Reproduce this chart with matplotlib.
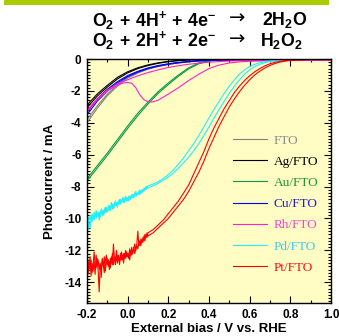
import numpy as np
import matplotlib
matplotlib.use("Agg")
import matplotlib.pyplot as plt
from matplotlib.patches import Rectangle
from matplotlib.ticker import MultipleLocator

plt.rcParams['font.family'] = ['Liberation Sans', 'DejaVu Sans']
plt.rcParams['mathtext.fontset'] = 'custom'
plt.rcParams['mathtext.rm'] = 'Liberation Sans:bold'
plt.rcParams['mathtext.bf'] = 'Liberation Sans:bold'
plt.rcParams['mathtext.it'] = 'Liberation Sans:bold'

# ---------------- data ----------------
V_coarse = [-0.2, -0.15, -0.1, -0.05, 0.0, 0.05, 0.1, 0.15, 0.2, 0.25, 0.3, 0.35, 0.4,
            0.45, 0.5, 0.55, 0.6, 0.65, 0.7, 0.75, 0.8, 0.85, 0.9, 0.95, 1.0]

FTO_a = [-4.0, -3.1, -2.3, -1.7, -1.2, -0.88, -0.64, -0.47, -0.34, -0.25, -0.18, -0.13, -0.1,
         -0.08, -0.07, -0.06, -0.05, -0.05, -0.04, -0.04, -0.04, -0.03, -0.03, -0.03, -0.03]
FTO_b = [-3.8, -2.95, -2.2, -1.62, -1.15, -0.84, -0.61, -0.45, -0.32, -0.23, -0.17, -0.12, -0.09,
         -0.07, -0.06, -0.05, -0.05, -0.04, -0.04, -0.04, -0.03, -0.03, -0.03, -0.03, -0.03]
Ag_a = [-2.9, -2.2, -1.65, -1.15, -0.8, -0.55, -0.37, -0.24, -0.15, -0.09, -0.05, -0.03, -0.02,
        -0.02, -0.02, -0.01, -0.01, -0.01, -0.01, -0.01, -0.01, -0.01, -0.01, -0.01, -0.01]
Ag_b = [-3.05, -2.33, -1.76, -1.25, -0.87, -0.6, -0.41, -0.27, -0.17, -0.1, -0.06, -0.04, -0.03,
        -0.02, -0.02, -0.02, -0.02, -0.01, -0.01, -0.01, -0.01, -0.01, -0.01, -0.01, -0.01]
Au_a = [-7.5, -6.7, -5.9, -5.05, -4.2, -3.4, -2.7, -2.05, -1.5, -1.0, -0.55, -0.25, -0.1,
        -0.05, -0.03, -0.02, -0.02, -0.02, -0.02, -0.02, -0.02, -0.02, -0.02, -0.02, -0.02]
Au_b = [-7.65, -6.85, -6.05, -5.2, -4.35, -3.55, -2.82, -2.15, -1.6, -1.08, -0.62, -0.3, -0.13,
        -0.06, -0.04, -0.03, -0.03, -0.03, -0.02, -0.02, -0.02, -0.02, -0.02, -0.02, -0.02]
Cu_a = [-3.5, -2.65, -2.0, -1.5, -1.1, -0.82, -0.6, -0.45, -0.33, -0.24, -0.17, -0.12, -0.09,
        -0.07, -0.06, -0.05, -0.05, -0.04, -0.04, -0.04, -0.03, -0.03, -0.03, -0.03, -0.03]
Cu_b = [-3.35, -2.5, -1.9, -1.42, -1.04, -0.77, -0.56, -0.41, -0.3, -0.21, -0.15, -0.1, -0.07,
        -0.06, -0.05, -0.04, -0.04, -0.04, -0.03, -0.03, -0.03, -0.03, -0.03, -0.03, -0.03]
Rh_a = [-3.2, -2.5, -1.95, -1.55, -1.3, -1.05, -0.85, -0.68, -0.53, -0.42, -0.33, -0.26, -0.2,
        -0.16, -0.13, -0.11, -0.1, -0.09, -0.09, -0.08, -0.08, -0.08, -0.08, -0.08, -0.08]

V_rh = [-0.2, -0.15, -0.1, -0.05, -0.02, 0.0, 0.02, 0.04, 0.06, 0.08, 0.1, 0.12, 0.15, 0.2,
        0.25, 0.3, 0.35, 0.4, 0.45, 0.5, 0.55, 0.6, 0.7, 0.8, 0.9, 1.0]
Rh_b = [-3.3, -2.55, -2.0, -1.65, -1.5, -1.47, -1.52, -1.8, -2.25, -2.55, -2.68, -2.7, -2.58, -2.2,
        -1.8, -1.35, -0.95, -0.6, -0.38, -0.25, -0.18, -0.14, -0.11, -0.1, -0.09, -0.08]

V_noisy = list(np.round(np.arange(-0.2, 0.1001, 0.005), 3))
Pt_a_noisy = [-12.3, -13.5, -12.9, -13.2, -12.6, -13.4, -13.0, -12.1, -12.8, -13.1, -12.5, -13.3,
              -14.6, -12.9, -13.2, -12.6, -13.0, -12.4, -13.3, -12.8, -12.5, -13.0, -12.7, -13.1,
              -12.4, -12.9, -11.6, -12.5, -12.9, -12.3, -12.8, -12.4, -12.7, -12.2, -12.6, -12.3,
              -12.8, -12.2, -12.5, -12.1, -12.4, -12.2, -12.6, -12.0, -12.3, -12.1, -11.8, -12.2,
              -11.9, -11.6, -10.8, -11.7, -11.4, -11.7, -11.3, -11.5, -11.1, -11.4, -11.0, -11.2,
              -10.9]
Pt_b_noisy = [-13.8, -12.6, -13.1, -12.4, -13.6, -12.8, -13.3, -12.7, -13.5, -12.3, -13.0, -12.6,
              -13.2, -12.8, -13.7, -12.5, -12.9, -13.4, -12.7, -12.3, -12.9, -12.6, -13.2, -12.5,
              -12.8, -12.2, -12.9, -12.4, -12.7, -12.0, -12.6, -12.3, -12.9, -12.4, -12.1, -12.6,
              -12.2, -12.5, -12.0, -12.4, -12.2, -12.5, -11.9, -12.3, -11.8, -12.2, -11.9, -11.6,
              -12.0, -11.7, -11.9, -11.5, -11.7, -11.3, -11.5, -11.2, -11.4, -11.0, -11.2, -10.9,
              -11.1]
Pd_a_noisy = [-10.0, -10.7, -10.1, -9.8, -10.2, -9.7, -10.0, -9.6, -9.9, -9.5, -9.9, -9.6,
              -10.1, -9.7, -9.4, -9.8, -9.5, -9.7, -9.3, -9.6, -9.4, -9.2, -9.5, -9.3,
              -9.0, -9.4, -9.1, -9.3, -8.9, -9.2, -9.0, -9.1, -8.8, -9.1, -8.9, -8.7,
              -9.0, -8.8, -8.6, -8.9, -8.7, -8.9, -8.6, -8.8, -8.5, -8.7, -8.5, -8.6,
              -8.3, -8.6, -8.4, -8.5, -8.2, -8.4, -8.2, -8.3, -8.1, -8.2, -8.0, -8.1,
              -7.95]
Pd_b_noisy = [-10.4, -9.9, -10.3, -10.6, -9.9, -10.2, -9.8, -10.1, -9.7, -10.0, -9.7, -9.9,
              -9.6, -9.9, -9.7, -9.5, -9.8, -9.4, -9.6, -9.3, -9.6, -9.4, -9.2, -9.5,
              -9.3, -9.1, -9.4, -9.0, -9.2, -9.0, -9.3, -8.9, -9.1, -8.8, -9.0, -8.9,
              -8.7, -9.0, -8.8, -8.7, -8.9, -8.6, -8.8, -8.6, -8.7, -8.5, -8.7, -8.4,
              -8.6, -8.4, -8.5, -8.3, -8.5, -8.3, -8.4, -8.2, -8.3, -8.1, -8.2, -8.0,
              -8.1]

V_smooth = list(np.round(np.arange(0.125, 1.0001, 0.025), 3))
Pt_a_smooth = [-10.7, -10.4, -10.1, -9.7, -9.3, -8.9, -8.4, -7.9, -7.2, -6.5, -5.8, -5.0, -4.3,
               -3.7, -3.1, -2.6, -2.1, -1.7, -1.35, -1.05, -0.8, -0.6, -0.43, -0.3, -0.21, -0.15,
               -0.1, -0.07, -0.05, -0.04, -0.03, -0.03, -0.02, -0.02, -0.02, -0.02]
Pt_b_smooth = [-10.9, -10.6, -10.3, -10.0, -9.6, -9.2, -8.8, -8.3, -7.7, -7.1, -6.4, -5.6, -4.9,
               -4.2, -3.6, -3.0, -2.5, -2.05, -1.65, -1.3, -1.0, -0.76, -0.56, -0.4, -0.28, -0.19,
               -0.13, -0.09, -0.06, -0.05, -0.04, -0.03, -0.03, -0.02, -0.02, -0.02]
Pd_a_smooth = [-7.85, -7.7, -7.5, -7.25, -6.95, -6.6, -6.2, -5.75, -5.3, -4.8, -4.25, -3.7, -3.15,
               -2.65, -2.15, -1.7, -1.3, -0.95, -0.68, -0.47, -0.33, -0.23, -0.16, -0.11, -0.08,
               -0.06, -0.05, -0.04, -0.03, -0.03, -0.02, -0.02, -0.02, -0.02, -0.02, -0.02]
Pd_b_smooth = [-7.95, -7.8, -7.6, -7.4, -7.15, -6.85, -6.5, -6.15, -5.75, -5.3, -4.8, -4.25, -3.7,
               -3.15, -2.65, -2.15, -1.7, -1.3, -0.95, -0.68, -0.47, -0.33, -0.23, -0.16, -0.11,
               -0.08, -0.06, -0.05, -0.04, -0.03, -0.03, -0.02, -0.02, -0.02, -0.02, -0.02]

labels = ['FTO', 'Ag/FTO', 'Au/FTO', 'Cu/FTO', 'Rh/FTO', 'Pd/FTO', 'Pt/FTO']
line_colors = ['#808080', '#000000', '#0a9a48', '#0000ff', '#ff22cc', '#22eeff', '#ff0000']
text_colors = ['#8c8c8c', '#000000', '#1a9a2a', '#2020c8', '#ff44cc', '#3ccbee', '#ff1010']

eq_left = [r'$\mathbf{O_2\,+\,4H^{+}\,+\,4e^{-}}$', r'$\mathbf{O_2\,+\,2H^{+}\,+\,2e^{-}}$']
eq_right = [r'$\mathbf{2H_2O}$', r'$\mathbf{H_2O_2}$']

# ---------------- figure ----------------
fig = plt.figure(figsize=(3.39, 3.36), dpi=100)
fig.patches.append(Rectangle((4/339, 1 - 5/336), 325/339, 5/336, transform=fig.transFigure,
                             facecolor='#aacc00', edgecolor='none'))
ax = fig.add_axes([87/339, 1 - 303/336, 244/339, 244/336])
ax.set_facecolor('#fffcc4')

lw = 0.8
series = [
    (V_coarse, [FTO_a, FTO_b]),
    (V_coarse, [Ag_a, Ag_b]),
    (V_coarse, [Au_a, Au_b]),
    (V_coarse, [Cu_a, Cu_b]),
]
handles = []
for (vx, ys), c in zip(series, line_colors[:4]):
    h = None
    for y in ys:
        l, = ax.plot(vx, y, color=c, lw=lw)
        h = h or l
    handles.append(h)
l1, = ax.plot(V_coarse, Rh_a, color=line_colors[4], lw=lw)
ax.plot(V_rh, Rh_b, color=line_colors[4], lw=lw)
handles.append(l1)
l1, = ax.plot(V_noisy + V_smooth, Pd_a_noisy + Pd_a_smooth, color=line_colors[5], lw=lw)
ax.plot(V_noisy + V_smooth, Pd_b_noisy + Pd_b_smooth, color=line_colors[5], lw=lw)
handles.append(l1)
l1, = ax.plot(V_noisy + V_smooth, Pt_a_noisy + Pt_a_smooth, color=line_colors[6], lw=lw)
ax.plot(V_noisy + V_smooth, Pt_b_noisy + Pt_b_smooth, color=line_colors[6], lw=lw)
handles.append(l1)

ax.set_xlim(-0.2, 1.0)
ax.set_ylim(-15.3, 0.0)
ax.xaxis.set_major_locator(MultipleLocator(0.2))
ax.xaxis.set_minor_locator(MultipleLocator(0.1))
ax.yaxis.set_major_locator(MultipleLocator(2))
ax.yaxis.set_minor_locator(MultipleLocator(0.2))
ax.tick_params(which='both', direction='in', top=True, right=True, width=0.8)
ax.tick_params(which='major', length=5, labelsize=8.5, pad=4)
ax.tick_params(which='minor', length=2.5)
ax.xaxis.set_major_formatter(matplotlib.ticker.FuncFormatter(
    lambda v, p: ('-' if v < -1e-9 else '') + f'{abs(v):.1f}'))
ax.yaxis.set_major_formatter(matplotlib.ticker.FuncFormatter(
    lambda v, p: ('-' if v < -1e-9 else '') + f'{abs(v):.0f}'))
for t in ax.get_xticklabels() + ax.get_yticklabels():
    t.set_fontweight('bold')
for s in ax.spines.values():
    s.set_linewidth(1.0)

ax.set_xlabel('External bias / V vs. RHE', fontsize=9.5, fontweight='bold', labelpad=2)
ax.set_ylabel('Photocurrent / mA', fontsize=9.5, fontweight='bold', labelpad=6)

leg = ax.legend(handles, labels, loc='upper left', bbox_to_anchor=(0.55, 0.74), frameon=False,
                prop={'family': 'Liberation Serif', 'size': 9.5}, handlelength=2.6,
                handletextpad=0.5, labelspacing=0.68)
for t, c in zip(leg.get_texts(), text_colors):
    t.set_color(c)

for i, yy in enumerate([20, 41]):
    yf = 1 - yy / 336
    fig.text(92/339, yf, eq_left[i], ha='left', va='center', fontsize=12.8)
    fig.text(237/339, yf + 0.004, '\u2192', ha='center', va='center', fontsize=14,
             family='DejaVu Sans')
    fig.text((307 - 4 * i)/339, yf, eq_right[i], ha='right', va='center', fontsize=12.8)

fig.savefig('out.png', dpi=100)
